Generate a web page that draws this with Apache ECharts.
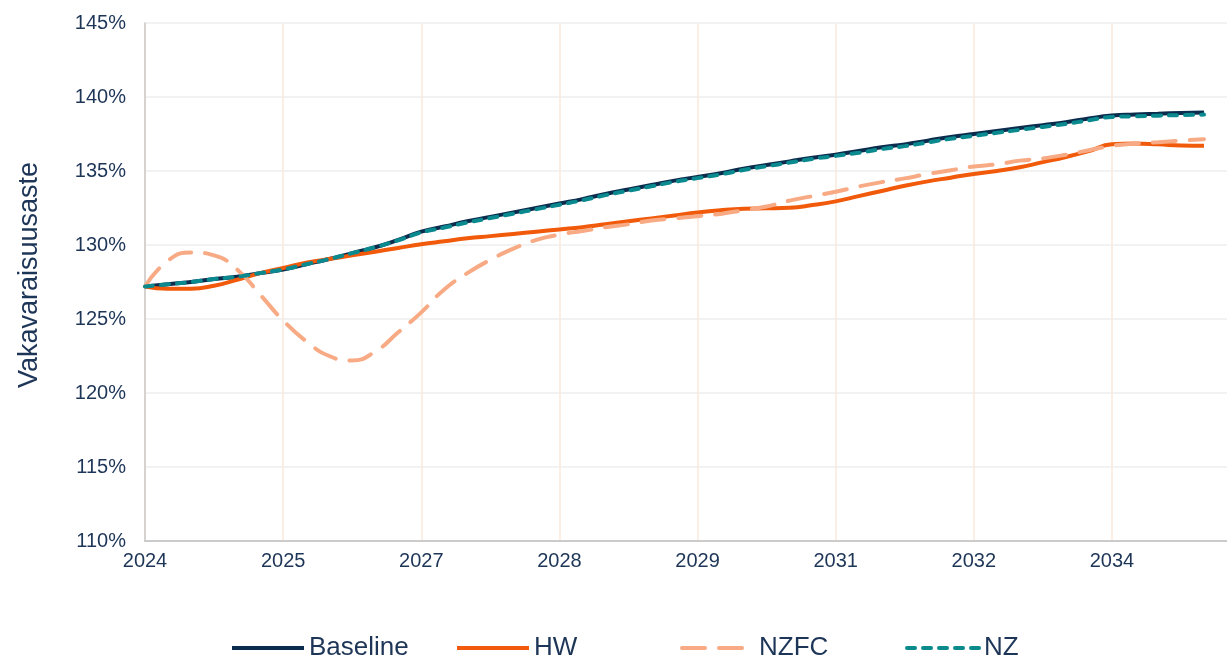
<!DOCTYPE html>
<html>
<head>
<meta charset="utf-8">
<script src="https://cdn.jsdelivr.net/npm/echarts@6/dist/echarts.min.js"></script>
<style>
html,body{margin:0;padding:0;background:#fff;}
#container{width:1227px;height:658px;}
</style>
</head>
<body>
<div id="container"></div>
<script>
// tick labels along the time axis, one every stepsPerTick points
var xTicks = ['2024','2025','2027','2028','2029','2031','2032','2034'];
var stepsPerTick = 6;
var nCats = 48;

var baseline = [127.2,127.35,127.5,127.7,127.85,128.1,128.35,128.7,129.05,129.45,129.85,130.35,
	130.9,131.25,131.6,131.9,132.2,132.5,132.8,133.1,133.45,133.75,134.05,134.35,
	134.6,134.85,135.15,135.4,135.65,135.9,136.1,136.35,136.6,136.8,137.05,137.3,
	137.5,137.7,137.9,138.1,138.3,138.55,138.75,138.82,138.87,138.92,138.96];
var hw = [127.2,127.05,127.05,127.25,127.65,128.1,128.45,128.8,129.05,129.3,129.55,129.8,
	130.05,130.25,130.45,130.6,130.75,130.9,131.05,131.2,131.4,131.6,131.8,132.0,
	132.2,132.35,132.45,132.48,132.52,132.7,132.95,133.3,133.65,134.0,134.3,134.55,
	134.8,135.0,135.25,135.6,135.95,136.35,136.8,136.85,136.8,136.72,136.7];
var nzfc = [127.2,128.95,129.5,129.3,128.35,126.65,124.9,123.5,122.5,122.2,122.8,124.1,
	125.45,127.0,128.1,129.0,129.75,130.35,130.7,130.95,131.2,131.4,131.65,131.8,
	131.95,132.1,132.35,132.6,133.0,133.3,133.6,133.95,134.25,134.5,134.8,135.05,
	135.3,135.45,135.7,135.85,136.1,136.4,136.7,136.85,136.95,137.05,137.15];
var nz = [127.2,127.35,127.5,127.7,127.85,128.1,128.35,128.7,129.05,129.45,129.85,130.32,
	130.85,131.18,131.52,131.82,132.12,132.42,132.72,133.02,133.37,133.67,133.97,134.27,
	134.52,134.77,135.07,135.32,135.57,135.82,136.02,136.23,136.48,136.68,136.93,137.18,
	137.38,137.58,137.78,137.98,138.18,138.43,138.65,138.7,138.74,138.78,138.81];

var categories = [];
for(var i=0;i<nCats;i++){
	categories.push(String(i));
}

var textColor = '#1d3557';
var fontFam = 'Liberation Sans, Arial, sans-serif';
var myChart = echarts.init(document.getElementById('container'));

function oneLegend(name, left){
	return {
		data:[name],
		left: left,
		top: 635,
		padding: 0,
		itemWidth: 72,
		itemHeight: 14,
		itemGap: 0,
		itemStyle: {opacity: 0},
		lineStyle: {width: 4},
		textStyle: {color: textColor, fontSize: 26, fontFamily: fontFam}
	};
}

var option = {
	animation: false,
	backgroundColor: '#fff',
	grid: {left: 145, top: 23, right: 0, bottom: 117},
	legend: [
		oneLegend('Baseline', 230),
		oneLegend('HW', 455),
		oneLegend('NZFC', 680),
		oneLegend('NZ', 905)
	],
	xAxis: [{
		type: 'category',
		boundaryGap: false,
		data: categories,
		axisLine: {show: true, lineStyle: {color: '#bfbfbf', width: 1.5}},
		axisTick: {show: false},
		axisLabel: {
			interval: stepsPerTick - 1,
			color: textColor,
			fontSize: 20,
			fontFamily: fontFam,
			margin: 10,
			formatter: function(v, idx){
				return xTicks[idx / stepsPerTick] || '';
			}
		},
		splitLine: {show: true, interval: stepsPerTick - 1, lineStyle: {color: '#f8e9dc', width: 1.5}}
	}],
	yAxis: [{
		type: 'value',
		min: 110,
		max: 145,
		interval: 5,
		name: 'Vakavaraisuusaste',
		nameLocation: 'middle',
		nameGap: 102,
		nameTextStyle: {color: textColor, fontSize: 27, fontFamily: fontFam, padding: [0, 0, 0, 14]},
		axisLine: {show: true, lineStyle: {color: '#c8c8c8', width: 1.5}},
		axisTick: {show: false},
		axisLabel: {
			color: textColor,
			fontSize: 20,
			fontFamily: fontFam,
			margin: 19,
			formatter: '{value}%'
		},
		splitLine: {show: true, lineStyle: {color: '#eeeeee', width: 1.5}}
	}],
	series: [{
		name: 'Baseline',
		type: 'line',
		data: baseline,
		smooth: true,
		symbol: 'none',
		lineStyle: {color: '#0b2c4d', width: 4},
		itemStyle: {color: '#0b2c4d'}
	},
	{
		name: 'HW',
		type: 'line',
		data: hw,
		smooth: true,
		symbol: 'none',
		lineStyle: {color: '#f05a0a', width: 4},
		itemStyle: {color: '#f05a0a'}
	},
	{
		name: 'NZFC',
		type: 'line',
		data: nzfc,
		smooth: true,
		symbol: 'none',
		lineStyle: {color: '#f7aa84', width: 4, type: [23, 14], cap: 'round'},
		itemStyle: {color: '#f7aa84'}
	},
	{
		name: 'NZ',
		type: 'line',
		data: nz,
		smooth: true,
		symbol: 'none',
		lineStyle: {color: '#0a8a8f', width: 4, type: [8, 8], cap: 'round'},
		itemStyle: {color: '#0a8a8f'}
	}]
};
myChart.setOption(option);
</script>
</body>
</html>
